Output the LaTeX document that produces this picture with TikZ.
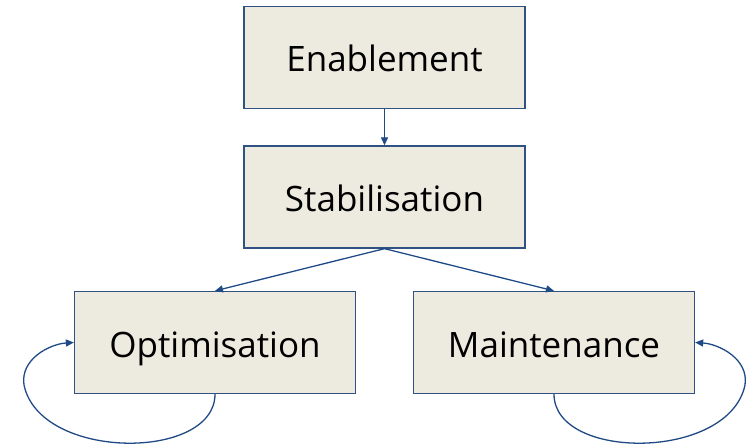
\documentclass[tikz,border=0pt]{standalone}
\usepackage{fontspec}
\setmainfont{Open Sans}
\usetikzlibrary{arrows.meta}
\definecolor{boxfill}{HTML}{EDEBE0}
\definecolor{boxline}{HTML}{2F5283}
\definecolor{arrowc}{HTML}{1F4A85}
\begin{document}
\begin{tikzpicture}[x=1pt,y=1pt,
  stage/.style={draw=boxline, line width=1.3pt, fill=boxfill, minimum width=281pt, minimum height=102pt, inner sep=0pt, text height=29pt, text depth=0pt, font=\fontsize{35}{40}\selectfont},
  conn/.style={draw=arrowc, line width=1.3pt, -{Triangle[length=8pt,width=7pt]}}]
\useasboundingbox (0,0) rectangle (746,447);
\node[stage] (en) at (384.5,389.5) {Enablement};
\node[stage] (st) at (384.5,250) {Stabilisation};
\node[stage] (op) at (215,104.5) {Optimisation};
\node[stage] (ma) at (554,104.5) {Maintenance};
\draw[conn] (en.south) -- (st.north);
\draw[conn] (st.south) -- (op.north);
\draw[conn] (st.south) -- (ma.north);
\draw[conn] (op.south) .. controls (215,-14) and (40,-14) .. (24,62) .. controls (20,88) and (50,103) .. (op.west);
\draw[conn] (ma.south) .. controls (554,-14) and (729,-14) .. (745,62) .. controls (749,88) and (719,103) .. (ma.east);
\end{tikzpicture}
\end{document}
